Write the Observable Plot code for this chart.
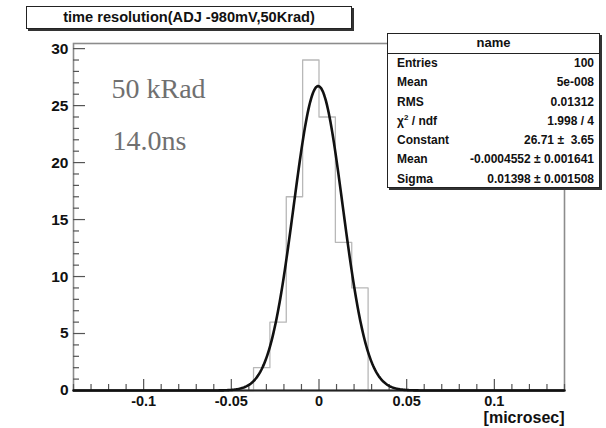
<!DOCTYPE html>
<html>
<head>
<meta charset="utf-8">
<script src="https://cdn.jsdelivr.net/npm/d3@7"></script>
<script src="https://cdn.jsdelivr.net/npm/@observablehq/plot@0.6"></script>
<style>
  html, body { margin: 0; padding: 0; background: #fff; }
  #wrap { position: relative; width: 606px; height: 428px; overflow: hidden; font-family: "Liberation Sans", Arial, sans-serif; }
  #wrap svg { position: absolute; left: 0; top: 0; }
  .box { position: absolute; background: #fff; border: 1px solid #222; box-shadow: 2px 2px 0 #333; box-sizing: border-box; color: #111; }
  #title { left: 26px; top: 6px; width: 326px; height: 23px; font-weight: bold; font-size: 14.6px; line-height: 21px; text-align: center; }
  #stats { left: 387px; top: 33px; width: 213px; height: 155px; font-weight: bold; font-size: 12px; }
  #stats .head { height: 19px; border-bottom: 1px solid #222; text-align: center; font-size: 13px; line-height: 18px; }
  #stats .row { display: flex; justify-content: space-between; height: 19.3px; line-height: 19.3px; padding: 0 5px 0 9px; }
  #stats sup { font-size: 8px; line-height: 0; }
</style>
</head>
<body>
<div id="wrap">
  <div id="chart"></div>
  <div id="title" class="box"></div>
  <div id="stats" class="box"></div>
</div>
<script>
// ---- data ----
const titleText = "time resolution(ADJ -980mV,50Krad)";
const histName = "name";
const xMin = -0.14, xMax = 0.14, nBins = 30;
const binCounts = [0,0,0,0,0,0,0,0,0,0,0,2,6,17,29,24,13,9,0,0,0,0,0,0,0,0,0,0,0,0];
const fitConstant = 26.71, fitMean = -0.0004552, fitSigma = 0.01398;
const statLabels = ["Entries", "Mean", "RMS", "χ<sup>2</sup> / ndf", "Constant", "Mean", "Sigma"];
const statValues = ["100", "5e-008", "0.01312", "1.998 / 4", "26.71 ± &nbsp;3.65", "-0.0004552 ± 0.001641", "0.01398 ± 0.001508"];
const xMajor = [-0.1, -0.05, 0, 0.05, 0.1];
const xTickLabels = ["-0.1", "-0.05", "0", "0.05", "0.1"];
const yMajor = [0, 5, 10, 15, 20, 25, 30];
const yTickLabels = ["0", "5", "10", "15", "20", "25", "30"];
const xAxisTitle = "[microsec]";
const notes = ["50 kRad", "14.0ns"];
const yMax = 30.45;

// ---- derived tables ----
const binW = (xMax - xMin) / nBins;
const histPts = binCounts.map((c, i) => ({x: xMin + i * binW, y: c}));
histPts.push({x: xMax, y: 0});
const fitPts = d3.range(0, 561).map(i => {
  const x = xMin + i * (xMax - xMin) / 560;
  return {x, y: fitConstant * Math.exp(-0.5 * ((x - fitMean) / fitSigma) ** 2)};
});
const xMinor = d3.range(-14, 15).map(k => k / 100).filter(v => !xMajor.some(m => Math.abs(m - v) < 1e-9));
const yMinor = d3.range(0, 31).filter(v => v % 5 !== 0);

const W = 606, H = 428, mL = 73, mR = 42, mT = 43, mB = 38;
const pw = W - mL - mR, ph = H - mT - mB;
const serif = "'Liberation Serif', 'Times New Roman', serif";

const chart = Plot.plot({
  width: W, height: H,
  marginLeft: mL, marginRight: mR, marginTop: mT, marginBottom: mB,
  x: {domain: [xMin, xMax]},
  y: {domain: [0, yMax]},
  style: {fontFamily: "'Liberation Sans', Arial, sans-serif", background: "white", color: "#111", overflow: "visible"},
  marks: [
    Plot.frame({stroke: "#8c8c8c", strokeWidth: 1.6}),
    Plot.line(histPts, {x: "x", y: "y", curve: "step-after", stroke: "#b8b8b8", strokeWidth: 1.3}),
    Plot.tickX(xMinor, {x: d => d, insetTop: ph - 6, stroke: "#555", strokeWidth: 1.2}),
    Plot.tickX(xMajor, {x: d => d, insetTop: ph - 11, stroke: "#555", strokeWidth: 1.2}),
    Plot.tickY(yMinor, {y: d => d, insetRight: pw - 6, stroke: "#555", strokeWidth: 1.2}),
    Plot.tickY(yMajor, {y: d => d, insetRight: pw - 12, stroke: "#555", strokeWidth: 1.2}),
    Plot.ruleY([0], {stroke: "#222", strokeWidth: 2}),
    Plot.line(fitPts, {x: "x", y: "y", stroke: "#111", strokeWidth: 2.6}),
    Plot.axisX({ticks: xMajor, tickSize: 0, tickPadding: 5, tickFormat: (d, i) => xTickLabels[i], fontSize: 14.5, fontWeight: "bold", label: null}),
    Plot.axisY({ticks: yMajor, tickSize: 0, tickPadding: 5, tickFormat: (d, i) => yTickLabels[i], fontSize: 15.5, fontWeight: "bold", label: null}),
    Plot.text([xAxisTitle], {frameAnchor: "bottom-right", textAnchor: "end", lineAnchor: "middle", dy: 27, fontSize: 16, fontWeight: "bold"}),
    Plot.text([notes[0]], {frameAnchor: "top-left", textAnchor: "start", lineAnchor: "middle", dx: 38, dy: 46, fontSize: 28, fontFamily: serif, fill: "#707070"}),
    Plot.text([notes[1]], {frameAnchor: "top-left", textAnchor: "start", lineAnchor: "middle", dx: 39, dy: 98, fontSize: 28, fontFamily: serif, fill: "#707070"})
  ]
});
document.getElementById("chart").appendChild(chart);

document.getElementById("title").textContent = titleText;
const stats = document.getElementById("stats");
stats.innerHTML = `<div class="head">${histName}</div>` +
  statLabels.map((l, i) => `<div class="row"><span>${l}</span><span>${statValues[i]}</span></div>`).join("");
</script>
</body>
</html>
